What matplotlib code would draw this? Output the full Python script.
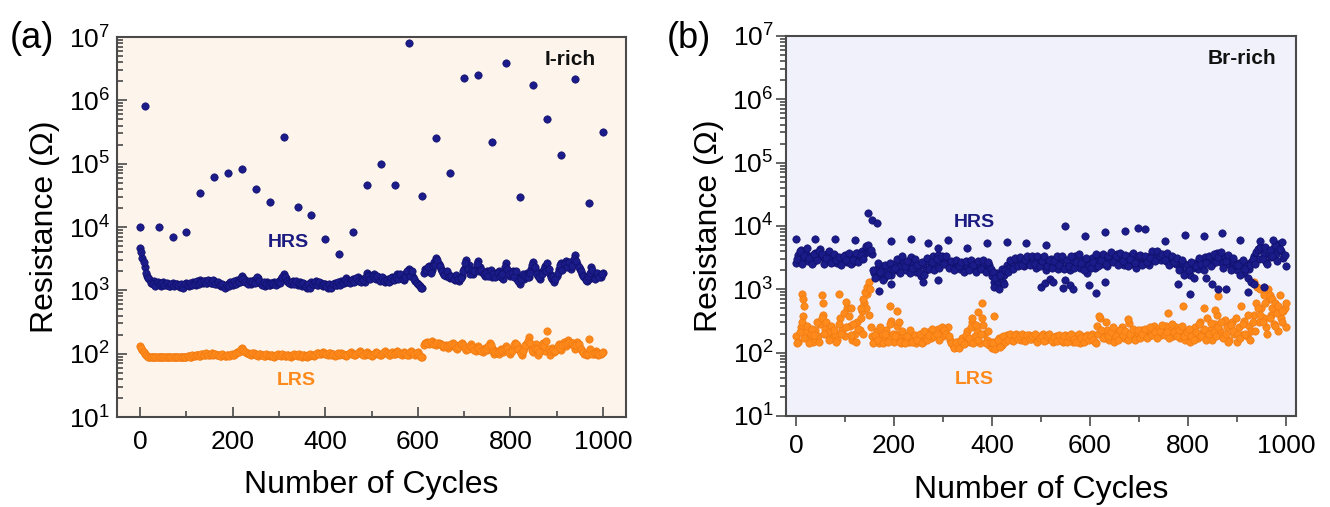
import numpy as np
import matplotlib
matplotlib.use("Agg")
import matplotlib.pyplot as plt
from matplotlib.ticker import LogLocator, MultipleLocator, NullFormatter

plt.rcParams['font.family'] = ['Liberation Sans', 'DejaVu Sans']
plt.rcParams['mathtext.default'] = 'regular'

# ---- panel (a): I-rich, read every 5 cycles (0..1000) and in between (2.5..997.5) ----
hrs_a = [
    4700, 3300, 2300, 1700, 1500, 1350, 1400, 1200, 1300, 1180,
    1350, 1220, 1280, 1150, 1300, 1200, 1250, 1130, 1200, 1150,
    1300, 1180, 1250, 1330, 1200, 1350, 1450, 1300, 1420, 1320,
    1400, 1300, 1380, 1250, 1300, 1150, 1200, 1120, 1250, 1350,
    1200, 1300, 1450, 1350, 1700, 1500, 1400, 1300, 1250, 1450,
    1350, 1550, 1300, 1250, 1150, 1350, 1200, 1300, 1350, 1250,
    1400, 1500, 1800, 1550, 1350, 1250, 1400, 1300, 1200, 1350,
    1150, 1250, 1100, 1200, 1350, 1250, 1400, 1200, 1300, 1150,
    1250, 1100, 1200, 1150, 1300, 1200, 1250, 1400, 1300, 1550,
    1400, 1350, 1500, 1400, 1600, 1450, 1500, 1350, 1900, 1750,
    1600, 1800, 1500, 1650, 1450, 1550, 1350, 1500, 1400, 1650,
    1500, 1800, 1550, 1700, 1450, 1900, 2200, 1800, 1600, 1400,
    1250, 1150, 1100, 2200, 2000, 2400, 2100, 2800, 3200, 2600,
    2200, 1900, 1700, 1800, 1550, 1650, 1450, 1600, 1400, 1700,
    2200, 3000, 2500, 2000, 1800, 2200, 2900, 2300, 1900, 1700,
    2000, 1800, 1600, 1900, 1700, 2000, 1600, 1500, 2700, 2000,
    1700, 2000, 1800, 1500, 1250, 1700, 1500, 1900, 1600, 2200,
    2800, 2000, 1700, 1500, 2000, 2400, 2700, 1800, 1500, 1350,
    1700, 2200, 2700, 2300, 2900, 2500, 2200, 2700, 3600, 2600,
    2200, 1800, 1600, 1400, 1500, 2300, 1700, 1600, 1800, 1650,
    1900]

hrs_a2 = [
    4000, 2800, 1900, 1550, 1300, 1250, 1150, 1350, 1250, 1300,
    1200, 1300, 1180, 1250, 1150, 1280, 1200, 1250, 1100, 1250,
    1200, 1300, 1200, 1250, 1400, 1250, 1350, 1400, 1300, 1450,
    1300, 1450, 1250, 1350, 1200, 1250, 1100, 1200, 1150, 1250,
    1400, 1250, 1350, 1550, 1500, 1350, 1250, 1400, 1350, 1300,
    1600, 1400, 1200, 1350, 1250, 1200, 1300, 1250, 1200, 1350,
    1300, 1650, 1600, 1400, 1300, 1350, 1250, 1400, 1300, 1250,
    1300, 1150, 1250, 1100, 1250, 1350, 1200, 1350, 1200, 1250,
    1150, 1250, 1100, 1250, 1200, 1350, 1200, 1300, 1450, 1350,
    1300, 1450, 1350, 1550, 1400, 1350, 1450, 1600, 1700, 1500,
    1700, 1550, 1700, 1400, 1600, 1400, 1450, 1350, 1550, 1450,
    1650, 1500, 1800, 1500, 1650, 2000, 1700, 2000, 1500, 1300,
    1200, 1100, 1900, 2100, 2300, 1900, 2400, 2500, 3000, 2400,
    2000, 1750, 2000, 1600, 1700, 1500, 1750, 1500, 1550, 2000,
    2700, 2200, 1800, 2100, 2000, 2600, 2000, 2100, 1800, 1900,
    1700, 2100, 1800, 1600, 1900, 1700, 1800, 2300, 2200, 1800,
    1900, 1600, 2000, 1400, 1500, 1800, 1700, 1600, 1900, 2500,
    2300, 1800, 1600, 1800, 2200, 2000, 2200, 1600, 1700, 1500,
    1900, 2500, 2100, 2600, 2300, 2800, 2400, 3100, 2900, 2300,
    2000, 1700, 1450, 1700, 1900, 2100, 1500, 1900, 1600, 1800]

lrs_a = [
    130, 115, 98, 92, 89, 88, 88, 88, 88, 88,
    88, 88, 88, 88, 89, 88, 88, 89, 88, 89,
    90, 91, 90, 92, 94, 96, 93, 98, 95, 100,
    96, 102, 98, 94, 97, 92, 95, 91, 94, 97,
    95, 99, 105, 112, 122, 110, 104, 100, 96, 102,
    97, 93, 98, 94, 91, 96, 92, 95, 90, 94,
    97, 92, 96, 91, 95, 90, 94, 97, 92, 96,
    90, 94, 89, 93, 97, 92, 100, 104, 98, 108,
    100, 95, 104, 98, 93, 100, 95, 103, 97, 92,
    100, 106, 98, 94, 104, 110, 100, 95, 105, 98,
    92, 100, 108, 98, 94, 103, 112, 100, 95, 105,
    98, 110, 103, 96, 108, 100, 95, 112, 102, 96,
    105, 92, 90, 145, 155, 140, 160, 148, 135, 150,
    142, 128, 138, 125, 132, 145, 128, 118, 135, 150,
    130, 115, 125, 140, 120, 110, 130, 118, 105, 122,
    115, 145, 125, 100, 112, 98, 120, 108, 130, 115,
    100, 125, 150, 135, 110, 95, 125, 145, 185, 130,
    105, 140, 95, 120, 150, 110, 225, 95, 125, 105,
    120, 140, 115, 155, 130, 165, 140, 150, 120, 155,
    125, 110, 100, 95, 170, 105, 98, 110, 95, 100,
    105]

lrs_a2 = [
    122, 105, 95, 90, 89, 88, 88, 88, 88, 88,
    88, 88, 88, 88, 88, 89, 88, 88, 89, 90,
    92, 89, 94, 91, 97, 93, 99, 96, 101, 97,
    99, 95, 100, 96, 93, 98, 93, 96, 92, 98,
    97, 102, 108, 118, 115, 106, 101, 98, 103, 99,
    95, 100, 96, 92, 98, 94, 97, 92, 96, 98,
    94, 99, 93, 97, 92, 96, 99, 94, 98, 93,
    96, 91, 95, 99, 94, 97, 102, 100, 104, 102,
    98, 101, 96, 100, 97, 104, 99, 100, 94, 97,
    103, 100, 96, 100, 107, 104, 97, 102, 100, 95,
    97, 104, 102, 95, 99, 108, 104, 97, 101, 100,
    104, 106, 99, 102, 104, 97, 105, 107, 99, 101,
    97, 90, 135, 150, 145, 152, 140, 142, 145, 140,
    135, 133, 130, 135, 140, 135, 122, 128, 142, 138,
    122, 120, 132, 128, 115, 124, 122, 110, 115, 118,
    130, 135, 110, 105, 105, 110, 113, 120, 122, 108,
    112, 138, 142, 120, 102, 110, 135, 160, 150, 115,
    122, 118, 108, 135, 130, 160, 120, 110, 115, 112,
    130, 125, 135, 142, 148, 152, 145, 135, 138, 140,
    118, 105, 98, 100, 120, 100, 104, 102, 98, 102]

spike_x_a = [0, 10, 40, 70, 100, 130, 160, 190, 220, 250, 280, 310, 340, 370,
             400, 430, 460, 490, 520, 550, 580, 610, 640, 670, 700, 730, 760,
             790, 820, 850, 880, 910, 940, 970, 1000]
spike_a = [1.0e4, 8.0e5, 1.0e4, 6.9e3, 8.2e3, 3.4e4, 6.2e4, 7.1e4, 8.2e4, 4.0e4,
           2.5e4, 2.6e5, 2.07e4, 1.53e4, 6.5e3, 3.7e3, 8.4e3, 4.6e4, 9.8e4, 4.6e4,
           8.0e6, 3.1e4, 2.5e5, 7.2e4, 2.25e6, 2.5e6, 2.2e5, 3.85e6, 3.0e4, 1.73e6,
           5.1e5, 1.36e5, 2.2e6, 2.4e4, 3.2e5]

# ---- panel (b): Br-rich ----
hrs_b = [
    2600, 3500, 4200, 3000, 3600, 2800, 3300, 2700, 3800, 3100,
    4300, 3400, 2900, 3700, 3200, 2700, 3400, 2600, 3000, 2800,
    3500, 2700, 3200, 2600, 3300, 3800, 3100, 4000, 3600, 4500,
    3900, 3600, 1800, 2100, 1600, 2300, 1500, 1900, 2200, 1700,
    2500, 2000, 2900, 2300, 2700, 2000, 2500, 3200, 2600, 1900,
    2200, 1600, 2400, 2000, 2800, 2300, 3300, 2500, 3500, 2700,
    3200, 2800, 2600, 2300, 2600, 2200, 2500, 2100, 2400, 2000,
    2300, 2600, 2200, 2500, 2100, 2400, 2200, 2600, 2000, 2400,
    1600, 1300, 1800, 1400, 2100, 1700, 2400, 2200, 2700, 2400,
    2900, 2500, 2800, 2300, 2700, 3100, 2600, 2900, 2200, 2700,
    3100, 2400, 2000, 2600, 3000, 2300, 2700, 2100, 2500, 3000,
    2200, 2600, 2000, 2800, 3300, 2500, 2200, 2900, 2400, 1800,
    2600, 3100, 2200, 2800, 3300, 2500, 3000, 2300, 2700, 3500,
    2900, 3600, 2600, 3100, 2400, 2800, 3300, 2500, 2900, 2200,
    2700, 3200, 2600, 3000, 2400, 3500, 3800, 3200, 3700, 2900,
    3400, 2800, 3200, 2600, 3000, 2500, 2800, 2200, 2600, 1900,
    2400, 1700, 2200, 2600, 2100, 2900, 2400, 3200, 2700, 3000,
    2500, 3400, 3800, 3000, 2600, 3200, 2500, 2900, 2200, 2700,
    2000, 2600, 2300, 1800, 2500, 2100, 2700, 3400, 3900, 3000,
    4200, 3500, 2700, 3800, 3200, 4500, 3600, 5200, 4000, 3100,
    2300]

hrs_b2 = [
    3000, 4000, 2500, 3300, 4500, 3100, 2500, 3600, 2900, 4000,
    3600, 2500, 3100, 4100, 2600, 3600, 2900, 3200, 2400, 3300,
    2900, 3800, 2500, 2900, 3700, 2700, 3500, 3000, 4800, 5000,
    4200, 2000, 1500, 2600, 1900, 1400, 2400, 1700, 2600, 2100,
    2200, 3000, 1800, 3400, 2300, 2800, 1800, 2200, 3000, 2400,
    1800, 2700, 1700, 3100, 2100, 2700, 2000, 3000, 2200, 3400,
    2500, 3300, 2200, 2800, 2000, 2900, 2300, 2700, 1900, 2800,
    2000, 2900, 2400, 1900, 2800, 2100, 2900, 1900, 2700, 2100,
    1900, 1500, 1200, 1700, 1300, 2000, 1900, 2900, 2100, 3100,
    2300, 3200, 2400, 2900, 3300, 2400, 3300, 2500, 3300, 2300,
    2800, 3400, 2300, 2900, 2200, 2800, 3300, 2400, 3400, 2100,
    2900, 2300, 3400, 2200, 2700, 3600, 2600, 2000, 3100, 2400,
    2200, 2700, 3600, 2300, 2900, 3600, 2500, 3300, 3900, 2700,
    3300, 2400, 3800, 2800, 3500, 2300, 3000, 3700, 2600, 3300,
    3500, 2400, 3300, 2700, 3100, 4000, 2800, 4100, 3300, 3600,
    2900, 3700, 2400, 3300, 2700, 3100, 2000, 2900, 1700, 2400,
    2000, 2700, 1500, 2300, 3100, 2500, 2000, 2600, 3400, 2300,
    3600, 2700, 3200, 3900, 2200, 2800, 3500, 2000, 3100, 2400,
    2400, 1700, 2900, 2100, 1500, 2400, 3000, 2500, 4300, 4600,
    3000, 4600, 2500, 4200, 3400, 5000, 2800, 4400, 5600, 3500]

lrs_b = [
    180, 150, 250, 380, 220, 170, 200, 150, 230, 180,
    280, 400, 240, 190, 220, 170, 200, 160, 350, 230,
    180, 500, 260, 160, 200, 300, 230, 450, 600, 850,
    400, 180, 150, 220, 140, 190, 160, 230, 180, 320,
    150, 200, 170, 140, 190, 160, 150, 200, 170, 140,
    160, 190, 150, 180, 210, 170, 230, 190, 240, 200,
    180, 220, 250, 160, 130, 125, 145, 130, 170, 140,
    220, 150, 300, 180, 230, 140, 350, 200, 160, 130,
    120, 150, 135, 170, 130, 160, 190, 170, 180, 165,
    195, 175, 160, 180, 170, 190, 165, 175, 160, 185,
    170, 195, 160, 180, 170, 150, 185, 165, 175, 145,
    190, 160, 175, 150, 185, 165, 140, 180, 155, 190,
    165, 200, 150, 260, 350, 200, 170, 230, 160, 190,
    150, 220, 180, 250, 170, 200, 290, 180, 210, 170,
    200, 230, 190, 210, 180, 220, 260, 200, 240, 190,
    220, 260, 200, 230, 180, 250, 200, 170, 220, 160,
    190, 150, 200, 250, 170, 300, 210, 180, 350, 230,
    160, 280, 400, 220, 180, 330, 250, 160, 300, 200,
    150, 250, 190, 320, 180, 260, 220, 400, 600, 300,
    500, 350, 250, 700, 400, 280, 500, 220, 350, 450,
    250]

lrs_b2 = [
    140, 210, 300, 170, 260, 140, 240, 190, 300, 150,
    350, 200, 300, 160, 260, 230, 150, 280, 200, 420,
    250, 380, 190, 280, 150, 240, 350, 200, 500, 1000,
    250, 140, 190, 160, 250, 140, 200, 150, 280, 200,
    180, 260, 150, 220, 140, 180, 230, 150, 190, 160,
    200, 140, 220, 160, 190, 240, 180, 200, 160, 250,
    230, 200, 180, 140, 120, 150, 120, 155, 135, 190,
    170, 250, 140, 270, 160, 200, 270, 140, 220, 150,
    140, 115, 160, 125, 180, 150, 160, 200, 155, 190,
    165, 185, 200, 155, 190, 165, 180, 200, 150, 170,
    180, 155, 185, 200, 160, 175, 155, 190, 160, 185,
    150, 180, 200, 165, 145, 195, 170, 150, 175, 160,
    180, 160, 140, 200, 230, 170, 300, 180, 210, 250,
    180, 160, 230, 190, 220, 160, 200, 240, 160, 230,
    170, 200, 240, 170, 250, 190, 210, 170, 220, 270,
    190, 210, 170, 280, 210, 180, 230, 260, 180, 210,
    240, 180, 160, 210, 280, 180, 240, 160, 200, 290,
    210, 180, 250, 300, 170, 200, 150, 270, 220, 350,
    200, 170, 280, 200, 400, 160, 300, 220, 500, 400,
    300, 600, 200, 350, 500, 260, 420, 800, 300, 500]

hi_x_b = [0, 40, 80, 120, 148, 155, 165, 195, 235, 270, 290, 310, 350, 390,
          430, 470, 510, 550, 591, 631, 671, 698, 712, 754, 794, 833, 870, 907,
          947, 973]
hi_b = [6300, 6300, 6200, 6000, 15900, 12400, 11200, 5900, 6300, 5300, 4500,
        6000, 4500, 5300, 5500, 5400, 5000, 10000, 6900, 8100, 8400, 9300, 9000,
        5800, 7100, 6900, 7700, 6000, 5800, 6100]

lo_x_b = [170, 195, 260, 290, 405, 415, 425, 500, 508, 518, 525, 545, 550, 560,
          565, 598, 612, 630, 780, 805, 838, 850, 862, 877, 922, 930, 935, 955]
lo_b = [930, 1200, 1300, 1400, 1100, 1000, 1200, 1100, 1250, 1450, 1300, 1050,
        1400, 1150, 1000, 1150, 890, 1300, 1200, 850, 1500, 1200, 1000, 1000,
        900, 1300, 1200, 1100]

lrs_x_b = [12, 14, 16, 53, 55, 88, 103, 112, 133, 138, 142, 146, 150, 152, 192,
           206, 210, 360, 372, 380, 405, 619, 678, 759, 791, 833, 856, 861, 909,
           936, 941, 947, 955, 963, 968, 972, 977, 985, 993, 1000]
lrs_spk_b = [850, 700, 550, 800, 600, 850, 630, 500, 500, 700, 900, 1100, 1300,
             1000, 550, 450, 300, 350, 440, 600, 380, 380, 340, 430, 550, 500,
             480, 780, 550, 1320, 1100, 1000, 800, 1000, 800, 700, 600, 550, 450,
             600]

cycles = np.arange(0, 1001, 5)
cycles2 = np.arange(2.5, 1000, 5)

c_hrs = '#1b1b8a'
c_lrs = '#ff8a1c'
e_hrs = '#10106a'
e_lrs = '#f07a10'

fig = plt.figure(figsize=(13.3, 5.07), dpi=100)
ax1 = fig.add_axes([0.088, 0.1775, 0.3827, 0.7495])
ax2 = fig.add_axes([0.591, 0.1795, 0.3835, 0.7495])

ms = 28


def dots(ax, x, y, fc, ec):
    ax.scatter(x, y, s=ms, c=fc, edgecolors=ec, linewidths=0.5, zorder=3)


# panel a
dots(ax1, cycles, lrs_a, c_lrs, e_lrs)
dots(ax1, cycles2, lrs_a2, c_lrs, e_lrs)
dots(ax1, cycles, hrs_a, c_hrs, e_hrs)
dots(ax1, cycles2, hrs_a2, c_hrs, e_hrs)
dots(ax1, spike_x_a, spike_a, c_hrs, e_hrs)

# panel b
dots(ax2, cycles, lrs_b, c_lrs, e_lrs)
dots(ax2, cycles2, lrs_b2, c_lrs, e_lrs)
dots(ax2, lrs_x_b, lrs_spk_b, c_lrs, e_lrs)
dots(ax2, cycles, hrs_b, c_hrs, e_hrs)
dots(ax2, cycles2, hrs_b2, c_hrs, e_hrs)
dots(ax2, hi_x_b, hi_b, c_hrs, e_hrs)
dots(ax2, lo_x_b, lo_b, c_hrs, e_hrs)

for ax, bg, xl, tdir in [(ax1, '#fdf4eb', (-50, 1050), 'in'),
                         (ax2, '#f1f1fc', (-20, 1021), 'out')]:
    ax.set_facecolor(bg)
    ax.set_yscale('log')
    ax.set_ylim(10, 1e7)
    ax.set_xlim(*xl)
    ax.set_yticks([10 ** k for k in range(1, 8)])
    ax.yaxis.set_minor_locator(LogLocator(base=10, subs=np.arange(2, 10), numticks=100))
    ax.yaxis.set_minor_formatter(NullFormatter())
    ax.set_xticks(np.arange(0, 1001, 200))
    ax.xaxis.set_minor_locator(MultipleLocator(100))
    for s in ax.spines.values():
        s.set_color('#4a4a4a')
        s.set_linewidth(1.5)
    ax.tick_params(which='both', direction=tdir, color='#4a4a4a', width=1.2,
                   top=False, right=False, labelsize=19)
    ax.tick_params(which='major', length=7)
    ax.tick_params(which='minor', length=4)
    ax.tick_params(axis='x', pad=9 if tdir == 'in' else 6)
    ax.tick_params(axis='y', pad=5 if tdir == 'in' else 2)
    ax.set_xlabel('Number of Cycles', fontsize=23, labelpad=12)
    ax.set_ylabel('Resistance (\u03a9)', fontsize=23, labelpad=6)

ax1.text(0.89, 0.94, 'I-rich', transform=ax1.transAxes, fontsize=15,
         fontweight='bold', color='#111111', ha='center', va='center')
ax1.text(0.336, 0.458, 'HRS', transform=ax1.transAxes, fontsize=14,
         fontweight='bold', color='#1a1a80', ha='center', va='center')
ax1.text(0.353, 0.095, 'LRS', transform=ax1.transAxes, fontsize=14,
         fontweight='bold', color=c_lrs, ha='center', va='center')

ax2.text(0.894, 0.94, 'Br-rich', transform=ax2.transAxes, fontsize=15,
         fontweight='bold', color='#111111', ha='center', va='center')
ax2.text(0.369, 0.51, 'HRS', transform=ax2.transAxes, fontsize=14,
         fontweight='bold', color='#1a1a80', ha='center', va='center')
ax2.text(0.369, 0.095, 'LRS', transform=ax2.transAxes, fontsize=14,
         fontweight='bold', color=c_lrs, ha='center', va='center')

fig.text(0.024, 0.925, '(a)', fontsize=26, ha='center', va='center')
fig.text(0.518, 0.925, '(b)', fontsize=26, ha='center', va='center')

fig.savefig('out.png', dpi=100)
